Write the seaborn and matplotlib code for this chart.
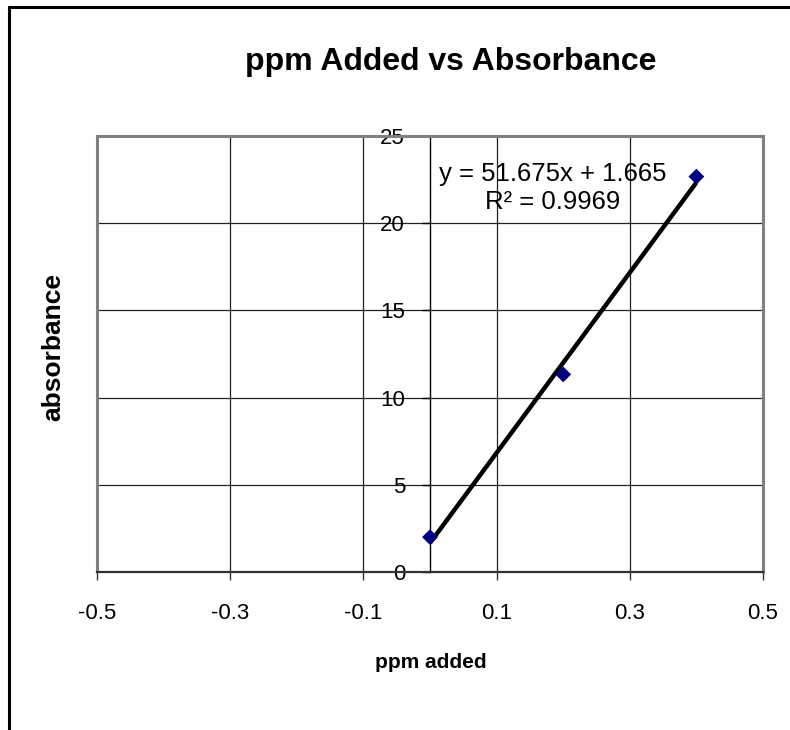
import numpy as np
import pandas as pd
import seaborn as sns
import matplotlib.pyplot as plt
from matplotlib.lines import Line2D

# ---- data ----
ppm_added = [0.0, 0.2, 0.4]
absorbance = [2.0, 11.33, 22.67]
x_ticks = [-0.5, -0.3, -0.1, 0.1, 0.3, 0.5]
y_ticks = [0, 5, 10, 15, 20, 25]
title = "ppm Added vs Absorbance"
x_label = "ppm added"
y_label = "absorbance"

sns.set_theme(style="white")
plt.rcParams['font.family'] = ['Liberation Sans', 'DejaVu Sans']

W, H = 790, 730
fig = plt.figure(figsize=(W / 100, H / 100), dpi=100)
fig.patch.set_facecolor('white')

def fx(px):
    return px / W

def fy(py):
    return 1 - py / H

ax = fig.add_axes([fx(97), fy(572), fx(763) - fx(97), fy(136) - fy(572)])
ax.set_facecolor('white')

df = pd.DataFrame({x_label: ppm_added, y_label: absorbance})

# trendline (linear fit) and markers
sns.regplot(data=df, x=x_label, y=y_label, ax=ax, ci=None, truncate=True,
            scatter=False, line_kws=dict(color='black', lw=3.2, zorder=4,
                                         solid_capstyle='butt'))
sns.scatterplot(data=df, x=x_label, y=y_label, ax=ax, marker='D',
                color='#000080', s=65, edgecolor='none', zorder=5)

ax.set_xlim(-0.5, 0.5)
ax.set_ylim(0, 25)
ax.set_xticks(x_ticks)
ax.set_yticks(y_ticks)
ax.set_xticklabels([f"{t:g}" for t in x_ticks])
ax.set_yticklabels([f"{t:g}" for t in y_ticks])
ax.set_xlabel("")
ax.set_ylabel("")

# gridlines
ax.grid(True, color='#222222', lw=0.9, zorder=0)
ax.set_axisbelow(True)

# spines: y-axis crosses at x=0
ax.spines['left'].set_position(('data', 0))
ax.spines['left'].set_color('black')
ax.spines['left'].set_linewidth(1.0)
ax.spines['bottom'].set_color('#333333')
ax.spines['bottom'].set_linewidth(1.6)
for s in ['top', 'right']:
    ax.spines[s].set_color('#808080')
    ax.spines[s].set_linewidth(2.2)
ax.axvline(-0.5, color='#808080', lw=2.2, zorder=1, clip_on=False)

ax.tick_params(axis='x', direction='out', length=6, width=1.0, color='#333333',
               pad=16, labelsize=16, labelcolor='black', bottom=True)
ax.tick_params(axis='y', direction='out', length=6, width=1.0, color='black',
               pad=12, labelsize=16, labelcolor='black', left=True)

# trendline equation
slope, intercept = np.polyfit(ppm_added, absorbance, 1)
pred = np.polyval([slope, intercept], ppm_added)
ss_res = np.sum((np.array(absorbance) - pred) ** 2)
ss_tot = np.sum((np.array(absorbance) - np.mean(absorbance)) ** 2)
r2 = 1 - ss_res / ss_tot
eq_text = f"y = {slope:.3f}x + {intercept:.3f}\nR² = {r2:.4f}"
fig.text(fx(553), fy(188), eq_text, ha='center', va='center', fontsize=18.5,
         linespacing=1.2, color='black')

# titles
fig.text(fx(451), fy(62), title, ha='center', va='center', fontsize=23,
         fontweight='bold', color='black')
fig.text(fx(431), fy(663), x_label, ha='center', va='center', fontsize=15,
         fontweight='bold', color='black')
fig.text(fx(53), fy(347), y_label, ha='center', va='center', fontsize=19,
         fontweight='bold', rotation=90, color='black')

# chart-area frame (top and left edges visible)
fig.add_artist(Line2D([fx(9), 1.0], [fy(7), fy(7)], color='black', lw=2.2,
                      transform=fig.transFigure))
fig.add_artist(Line2D([fx(9), fx(9)], [0.0, fy(7)], color='black', lw=2.2,
                      transform=fig.transFigure))

fig.savefig('out.png', dpi=100)
